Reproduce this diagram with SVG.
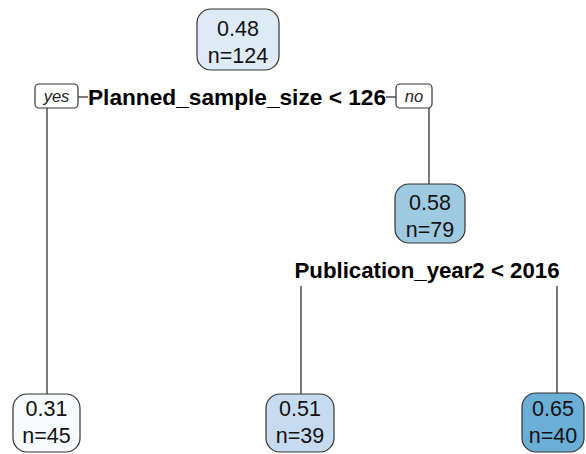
<svg xmlns="http://www.w3.org/2000/svg" width="586" height="454" viewBox="0 0 586 454">
<style>
.box{stroke:#333;stroke-width:1.2}
.nt{font-family:"Liberation Sans",Arial,sans-serif;font-size:21.5px;fill:#111;text-anchor:middle}
.sp{font-family:"Liberation Sans",Arial,sans-serif;font-size:22.5px;font-weight:bold;fill:#000;text-anchor:middle}
.yn{font-family:"Liberation Sans",Arial,sans-serif;font-size:16.5px;font-style:italic;fill:#222;text-anchor:middle}
.ln{stroke:#222;stroke-width:1.2;fill:none}
</style>
<rect width="586" height="454" fill="#fff"/>
<g id="connectors">
<line class="ln" x1="78" y1="97" x2="88" y2="97"/>
<line class="ln" x1="386" y1="97" x2="396" y2="97"/>
<line class="ln" x1="47" y1="108" x2="47" y2="394"/>
<line class="ln" x1="429" y1="108" x2="429" y2="184"/>
<line class="ln" x1="301" y1="286" x2="301" y2="394"/>
<line class="ln" x1="557" y1="286" x2="557" y2="393"/>
</g>
<g id="root">
<rect class="box" x="197" y="9" width="82" height="61" rx="14" fill="#deebf7"/>
<text class="nt" x="238" y="36">0.48</text>
<text class="nt" x="238" y="63">n=124</text>
</g>
<g id="split1">
<text class="sp" x="237" y="105" textLength="298" lengthAdjust="spacingAndGlyphs">Planned_sample_size &lt; 126</text>
</g>
<g id="yes">
<rect class="box" x="35" y="84" width="43" height="24" rx="4" fill="#fff"/>
<text class="yn" x="56.5" y="102">yes</text>
</g>
<g id="no">
<rect class="box" x="396" y="84" width="36" height="24" rx="4" fill="#fff"/>
<text class="yn" x="414" y="102">no</text>
</g>
<g id="node2">
<rect class="box" x="395" y="184" width="70" height="59" rx="14" fill="#9ecae1"/>
<text class="nt" x="430" y="210">0.58</text>
<text class="nt" x="430" y="237">n=79</text>
</g>
<g id="split2">
<text class="sp" x="427" y="278" textLength="265" lengthAdjust="spacingAndGlyphs">Publication_year2 &lt; 2016</text>
</g>
<g id="leaf1">
<rect class="box" x="13" y="394" width="67" height="58" rx="14" fill="#f7fbff"/>
<text class="nt" x="46.5" y="416">0.31</text>
<text class="nt" x="46.5" y="443">n=45</text>
</g>
<g id="leaf2">
<rect class="box" x="266" y="394" width="68" height="58" rx="14" fill="#c6dbef"/>
<text class="nt" x="300" y="416">0.51</text>
<text class="nt" x="300" y="443">n=39</text>
</g>
<g id="leaf3">
<rect class="box" x="522" y="393" width="62" height="59" rx="14" fill="#6baed6"/>
<text class="nt" x="553" y="416">0.65</text>
<text class="nt" x="553" y="443">n=40</text>
</g>
</svg>
